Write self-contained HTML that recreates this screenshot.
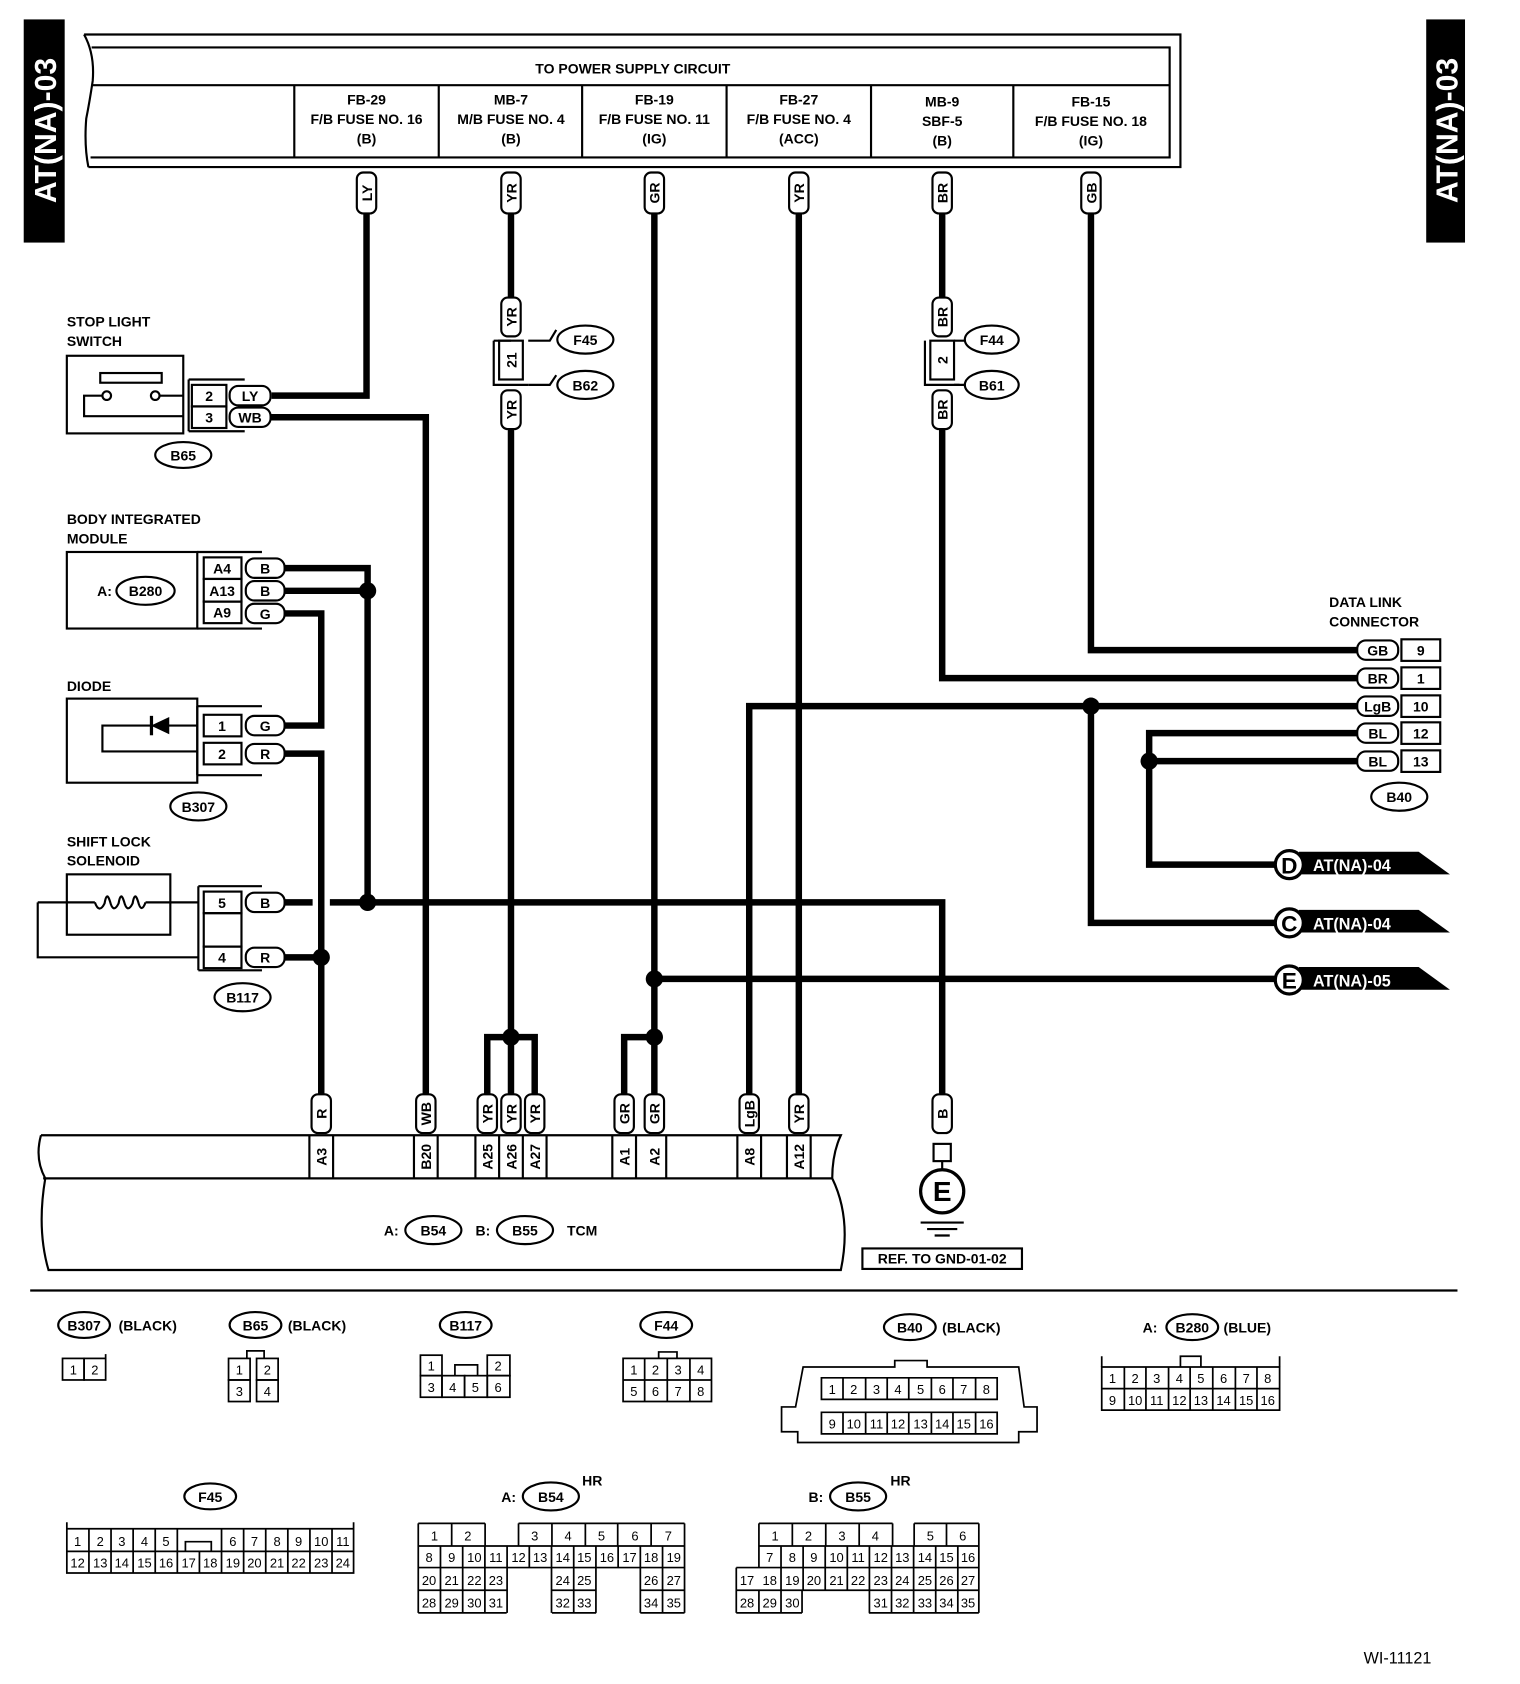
<!DOCTYPE html>
<html><head><meta charset="utf-8"><style>
html,body{margin:0;padding:0;background:#fff;}
svg{display:block;}
text{font-family:"Liberation Sans",Arial,sans-serif;fill:#000;}
.b{font-weight:bold;font-size:13px;}
.n{font-size:12px;}
</style></head><body>
<svg width="1520" height="1684" viewBox="0 0 1410 1562" preserveAspectRatio="none" xmlns="http://www.w3.org/2000/svg">
<rect width="1410" height="1562" fill="#fff"/>
<g fill="none" stroke="#000" stroke-width="2">
<!-- tabs -->
</g>
<rect x="22" y="18" width="38" height="207" fill="#000"/>
<text transform="translate(52,121) rotate(-90)" text-anchor="middle" style="font-family:'Liberation Sans Narrow','Liberation Sans',sans-serif;font-size:28px;font-weight:bold;fill:#fff">AT(NA)-03</text>
<rect x="1323" y="18" width="36" height="207" fill="#000"/>
<text transform="translate(1352,121) rotate(-90)" text-anchor="middle" style="font-family:'Liberation Sans Narrow','Liberation Sans',sans-serif;font-size:28px;font-weight:bold;fill:#fff">AT(NA)-03</text>

<!-- header -->
<g fill="none" stroke="#000" stroke-width="2">
<path d="M78 32 H1095 V155 H82"/>
<path d="M85 44 H1085 V146 H84"/>
<path d="M85 79 H1085"/>
<path d="M78 32 Q88 50 86 75 Q83 95 80 110 Q78 135 82 155"/>
<path d="M273 79V146 M407 79V146 M540 79V146 M674 79V146 M808 79V146 M940 79V146"/>
</g>
<g class="b" text-anchor="middle">
<text x="587" y="68">TO POWER SUPPLY CIRCUIT</text>
<text x="340" y="97">FB-29</text><text x="340" y="115">F/B FUSE NO. 16</text><text x="340" y="133">(B)</text>
<text x="474" y="97">MB-7</text><text x="474" y="115">M/B FUSE NO. 4</text><text x="474" y="133">(B)</text>
<text x="607" y="97">FB-19</text><text x="607" y="115">F/B FUSE NO. 11</text><text x="607" y="133">(IG)</text>
<text x="741" y="97">FB-27</text><text x="741" y="115">F/B FUSE NO. 4</text><text x="741" y="133">(ACC)</text>
<text x="874" y="99">MB-9</text><text x="874" y="117">SBF-5</text><text x="874" y="135">(B)</text>
<text x="1012" y="99">FB-15</text><text x="1012" y="117">F/B FUSE NO. 18</text><text x="1012" y="135">(IG)</text>
</g>

<!-- wires -->
<g fill="none" stroke="#000" stroke-width="6" stroke-linejoin="miter">
<path d="M340 198 V367 H252"/>
<path d="M250 387 H395 V1015"/>
<path d="M474 198 V276 M474 398 V962 M452 1015 V962 H496 V1015 M474 962 V1015"/>
<path d="M607 198 V1015 M607 962 H579 V1015 M607 908 H1183"/>
<path d="M741 198 V1015"/>
<path d="M874 198 V276 M874 398 V629 H1260"/>
<path d="M1012 198 V603 H1260"/>
<path d="M695 1015 V655 H1260 M1012 655 V856 H1183"/>
<path d="M1260 680 H1066 V802 H1183 M1066 706 H1260"/>
<path d="M264 527 H341 V837 M264 548 H341"/>
<path d="M264 569 H298 V673 H264"/>
<path d="M264 699 H298 V1015"/>
<path d="M264 837 H290 M306 837 H874 V1015"/>
<path d="M264 888 H298"/>
</g>
<g fill="#000">
<circle cx="341" cy="548" r="8"/><circle cx="341" cy="837" r="8"/><circle cx="298" cy="888" r="8"/>
<circle cx="474" cy="962" r="8"/><circle cx="607" cy="962" r="8"/><circle cx="607" cy="908" r="8"/>
<circle cx="1012" cy="655" r="8"/><circle cx="1066" cy="706" r="8"/>
</g>

<!-- vertical pills top -->
<g fill="#fff" stroke="#000" stroke-width="2">
<rect x="331" y="160" width="18" height="38" rx="6"/>
<rect x="465" y="160" width="18" height="38" rx="6"/>
<rect x="598" y="160" width="18" height="38" rx="6"/>
<rect x="732" y="160" width="18" height="38" rx="6"/>
<rect x="865" y="160" width="18" height="38" rx="6"/>
<rect x="1003" y="160" width="18" height="38" rx="6"/>
<rect x="465" y="276" width="18" height="36" rx="6"/>
<rect x="465" y="362" width="18" height="36" rx="6"/>
<rect x="865" y="276" width="18" height="36" rx="6"/>
<rect x="865" y="362" width="18" height="36" rx="6"/>
<!-- bottom pills -->
<rect x="289" y="1015" width="18" height="36" rx="6"/>
<rect x="386" y="1015" width="18" height="36" rx="6"/>
<rect x="443" y="1015" width="18" height="36" rx="6"/>
<rect x="465" y="1015" width="18" height="36" rx="6"/>
<rect x="487" y="1015" width="18" height="36" rx="6"/>
<rect x="570" y="1015" width="18" height="36" rx="6"/>
<rect x="598" y="1015" width="18" height="36" rx="6"/>
<rect x="686" y="1015" width="18" height="36" rx="6"/>
<rect x="732" y="1015" width="18" height="36" rx="6"/>
<rect x="865" y="1015" width="18" height="36" rx="6"/>
</g>
<g class="b" text-anchor="middle">
<text transform="translate(345,179) rotate(-90)">LY</text>
<text transform="translate(479,179) rotate(-90)">YR</text>
<text transform="translate(612,179) rotate(-90)">GR</text>
<text transform="translate(746,179) rotate(-90)">YR</text>
<text transform="translate(879,179) rotate(-90)">BR</text>
<text transform="translate(1017,179) rotate(-90)">GB</text>
<text transform="translate(479,294) rotate(-90)">YR</text>
<text transform="translate(479,380) rotate(-90)">YR</text>
<text transform="translate(879,294) rotate(-90)">BR</text>
<text transform="translate(879,380) rotate(-90)">BR</text>
<text transform="translate(303,1033) rotate(-90)">R</text>
<text transform="translate(400,1033) rotate(-90)">WB</text>
<text transform="translate(457,1033) rotate(-90)">YR</text>
<text transform="translate(479,1033) rotate(-90)">YR</text>
<text transform="translate(501,1033) rotate(-90)">YR</text>
<text transform="translate(584,1033) rotate(-90)">GR</text>
<text transform="translate(612,1033) rotate(-90)">GR</text>
<text transform="translate(700,1033) rotate(-90)">LgB</text>
<text transform="translate(746,1033) rotate(-90)">YR</text>
<text transform="translate(879,1033) rotate(-90)">B</text>
</g>

<!-- F45/B62 and F44/B61 -->
<g fill="none" stroke="#000" stroke-width="2">
<rect x="463" y="316" width="22" height="36" fill="#fff"/>
<path d="M458 316 V357 H490 M458 316 H474"/>
<path d="M490 316 H510 L516 306 M490 357 H510 L516 348"/>
<rect x="863" y="316" width="22" height="36" fill="#fff"/>
<path d="M858 316 V357 H890"/>
<path d="M885 316 H896 M885 357 H896"/>
<ellipse cx="543" cy="315" rx="26" ry="13"/><ellipse cx="543" cy="357" rx="26" ry="13"/>
<ellipse cx="920" cy="315" rx="25" ry="13"/><ellipse cx="920" cy="357" rx="25" ry="13"/>
</g>
<g class="b" text-anchor="middle">
<text transform="translate(479,334) rotate(-90)">21</text>
<text transform="translate(879,334) rotate(-90)">2</text>
<text x="543" y="320">F45</text><text x="543" y="362">B62</text>
<text x="920" y="320">F44</text><text x="920" y="362">B61</text>
</g>

<!-- Stop light switch -->
<g class="b"><text x="62" y="303">STOP LIGHT</text><text x="62" y="321">SWITCH</text></g>
<g fill="none" stroke="#000" stroke-width="2">
<rect x="62" y="330" width="108" height="72"/>
<rect x="93" y="346" width="57" height="9"/>
<circle cx="99" cy="367" r="4"/><circle cx="144" cy="367" r="4"/>
<path d="M95 367 H78 V386 H170 M148 367 H170"/>
<path d="M175 352 H227 M175 400 H227 M175 352 V400"/>
<rect x="178" y="357" width="32" height="20"/><rect x="178" y="377" width="32" height="20"/>
<rect x="213" y="358" width="38" height="18" rx="8" fill="#fff"/>
<rect x="213" y="378" width="38" height="18" rx="8" fill="#fff"/>
<ellipse cx="170" cy="422" rx="26" ry="12"/>
</g>
<g class="b" text-anchor="middle">
<text x="194" y="372">2</text><text x="194" y="392">3</text>
<text x="232" y="372">LY</text><text x="232" y="392">WB</text>
<text x="170" y="427">B65</text>
</g>

<!-- Body integrated module -->
<g class="b"><text x="62" y="486">BODY INTEGRATED</text><text x="62" y="504">MODULE</text></g>
<g fill="none" stroke="#000" stroke-width="2">
<rect x="62" y="512" width="121" height="71"/>
<path d="M183 512 H243 M183 583 H243"/>
<rect x="189" y="517" width="35" height="20"/><rect x="189" y="537" width="35" height="21"/><rect x="189" y="558" width="35" height="20"/>
<rect x="228" y="518" width="36" height="18" rx="8" fill="#fff"/>
<rect x="228" y="539" width="36" height="18" rx="8" fill="#fff"/>
<rect x="228" y="560" width="36" height="18" rx="8" fill="#fff"/>
<ellipse cx="135" cy="548" rx="27" ry="13"/>
</g>
<g class="b" text-anchor="middle">
<text x="206" y="532">A4</text><text x="206" y="553">A13</text><text x="206" y="573">A9</text>
<text x="246" y="532">B</text><text x="246" y="553">B</text><text x="246" y="574">G</text>
<text x="97" y="553">A:</text><text x="135" y="553">B280</text>
</g>

<!-- Diode -->
<text class="b" x="62" y="641">DIODE</text>
<g fill="none" stroke="#000" stroke-width="2">
<rect x="62" y="648" width="121" height="78"/>
<path d="M183 655 H243 M183 719 H243 M183 655 V719"/>
<path d="M183 673 H140 M140 673 H95 V697 H183"/>
<rect x="189" y="663" width="35" height="20"/><rect x="189" y="689" width="35" height="20"/>
<rect x="228" y="664" width="36" height="18" rx="8" fill="#fff"/>
<rect x="228" y="690" width="36" height="18" rx="8" fill="#fff"/>
<ellipse cx="184" cy="748" rx="26" ry="13"/>
</g>
<polygon points="140,673 157,665 157,681" fill="#000"/>
<rect x="139" y="664" width="3" height="18" fill="#000"/>
<g class="b" text-anchor="middle">
<text x="206" y="678">1</text><text x="206" y="704">2</text>
<text x="246" y="678">G</text><text x="246" y="704">R</text>
<text x="184" y="753">B307</text>
</g>

<!-- Shift lock solenoid -->
<g class="b"><text x="62" y="785">SHIFT LOCK</text><text x="62" y="803">SOLENOID</text></g>
<g fill="none" stroke="#000" stroke-width="2">
<rect x="62" y="811" width="96" height="56"/>
<path d="M35 837 H88 M135 837 H184 M35 837 V888 H184"/>
<path d="M88 837 Q92 848 97 838 Q99 826 102 836 Q105 848 110 838 Q112 826 115 836 Q118 848 123 838 Q125 826 128 836 Q131 848 135 837"/>
<path d="M184 822 H243 M184 900 H243 M184 822 V900"/>
<rect x="189" y="827" width="35" height="20"/><rect x="189" y="847" width="35" height="31"/><rect x="189" y="878" width="35" height="20"/>
<rect x="228" y="828" width="36" height="18" rx="8" fill="#fff"/>
<rect x="228" y="879" width="36" height="18" rx="8" fill="#fff"/>
<ellipse cx="225" cy="925" rx="26" ry="13"/>
</g>
<g class="b" text-anchor="middle">
<text x="206" y="842">5</text><text x="206" y="893">4</text>
<text x="246" y="842">B</text><text x="246" y="893">R</text>
<text x="225" y="930">B117</text>
</g>

<!-- Data link connector -->
<g class="b"><text x="1233" y="563">DATA LINK</text><text x="1233" y="581">CONNECTOR</text></g>
<g fill="none" stroke="#000" stroke-width="2">
<rect x="1300" y="593" width="36" height="20"/><rect x="1300" y="619" width="36" height="20"/><rect x="1300" y="645" width="36" height="20"/><rect x="1300" y="670" width="36" height="20"/><rect x="1300" y="696" width="36" height="20"/>
<rect x="1259" y="594" width="38" height="18" rx="8" fill="#fff"/>
<rect x="1259" y="620" width="38" height="18" rx="8" fill="#fff"/>
<rect x="1259" y="646" width="38" height="18" rx="8" fill="#fff"/>
<rect x="1259" y="671" width="38" height="18" rx="8" fill="#fff"/>
<rect x="1259" y="697" width="38" height="18" rx="8" fill="#fff"/>
<ellipse cx="1298" cy="739" rx="26" ry="13"/>
</g>
<g class="b" text-anchor="middle">
<text x="1278" y="608">GB</text><text x="1318" y="608">9</text>
<text x="1278" y="634">BR</text><text x="1318" y="634">1</text>
<text x="1278" y="660">LgB</text><text x="1318" y="660">10</text>
<text x="1278" y="685">BL</text><text x="1318" y="685">12</text>
<text x="1278" y="711">BL</text><text x="1318" y="711">13</text>
<text x="1298" y="744">B40</text>
</g>

<!-- Off-page connectors -->
<g>
<polygon points="1205,790 1316,790 1345,811 1205,811" fill="#000"/>
<polygon points="1205,844 1316,844 1345,865 1205,865" fill="#000"/>
<polygon points="1205,897 1316,897 1345,918 1205,918" fill="#000"/>
<circle cx="1196" cy="802" r="13" fill="#fff" stroke="#000" stroke-width="3"/>
<circle cx="1196" cy="856" r="13" fill="#fff" stroke="#000" stroke-width="3"/>
<circle cx="1196" cy="909" r="13" fill="#fff" stroke="#000" stroke-width="3"/>
</g>
<g style="font-weight:bold;font-size:21px" text-anchor="middle">
<text x="1196" y="810">D</text><text x="1196" y="864">C</text><text x="1196" y="917">E</text>
</g>
<g style="font-weight:bold;font-size:15px;fill:#fff">
<text x="1218" y="808" style="fill:#fff">AT(NA)-04</text>
<text x="1218" y="862" style="fill:#fff">AT(NA)-04</text>
<text x="1218" y="915" style="fill:#fff">AT(NA)-05</text>
</g>

<!-- TCM -->
<g fill="none" stroke="#000" stroke-width="2">
<path d="M38 1053 H780 Q772 1070 772 1093 M40 1093 H772 Q790 1130 780 1178 H45 Q34 1140 42 1093 Q32 1075 38 1053"/>
<path d="M287 1053V1093 M309 1053V1093 M384 1053V1093 M406 1053V1093 M441 1053V1093 M463 1053V1093 M485 1053V1093 M507 1053V1093 M568 1053V1093 M590 1053V1093 M618 1053V1093 M684 1053V1093 M706 1053V1093 M730 1053V1093 M752 1053V1093"/>
</g>
<g class="b" text-anchor="middle">
<text transform="translate(303,1073) rotate(-90)">A3</text>
<text transform="translate(400,1073) rotate(-90)">B20</text>
<text transform="translate(457,1073) rotate(-90)">A25</text>
<text transform="translate(479,1073) rotate(-90)">A26</text>
<text transform="translate(501,1073) rotate(-90)">A27</text>
<text transform="translate(584,1073) rotate(-90)">A1</text>
<text transform="translate(612,1073) rotate(-90)">A2</text>
<text transform="translate(700,1073) rotate(-90)">A8</text>
<text transform="translate(746,1073) rotate(-90)">A12</text>
</g>
<g fill="none" stroke="#000" stroke-width="2">
<ellipse cx="402" cy="1141" rx="26" ry="13"/><ellipse cx="487" cy="1141" rx="26" ry="13"/>
</g>
<g class="b" text-anchor="middle">
<text x="363" y="1146">A:</text><text x="402" y="1146">B54</text>
<text x="448" y="1146">B:</text><text x="487" y="1146">B55</text>
<text x="540" y="1146">TCM</text>
</g>

<!-- Ground -->
<g fill="none" stroke="#000" stroke-width="2">
<rect x="866" y="1061" width="16" height="16"/>
<path d="M874 1077 V1085"/>
<circle cx="874" cy="1105" r="20" stroke-width="3"/>
<path d="M854 1134 H894 M860 1140 H888 M867 1146 H881"/>
<rect x="800" y="1158" width="148" height="19"/>
</g>
<text x="874" y="1114" text-anchor="middle" style="font-weight:bold;font-size:26px">E</text>
<text class="b" x="874" y="1172" text-anchor="middle">REF. TO GND-01-02</text>

<path d="M28 1197 H1352" stroke="#000" stroke-width="2"/>

<!-- Bottom connector legends -->
<g fill="none" stroke="#000" stroke-width="2">
<ellipse cx="78" cy="1229" rx="24" ry="12"/><ellipse cx="237" cy="1229" rx="24" ry="12"/>
<ellipse cx="432" cy="1229" rx="24" ry="12"/><ellipse cx="618" cy="1229" rx="24" ry="12"/>
<ellipse cx="844" cy="1231" rx="24" ry="12"/><ellipse cx="1106" cy="1231" rx="24" ry="12"/>
<ellipse cx="195" cy="1388" rx="24" ry="12"/><ellipse cx="511" cy="1388" rx="26" ry="13"/><ellipse cx="796" cy="1388" rx="26" ry="13"/>
</g>
<g class="b">
<text x="78" y="1234" text-anchor="middle">B307</text><text x="110" y="1234">(BLACK)</text>
<text x="237" y="1234" text-anchor="middle">B65</text><text x="267" y="1234">(BLACK)</text>
<text x="432" y="1234" text-anchor="middle">B117</text>
<text x="618" y="1234" text-anchor="middle">F44</text>
<text x="844" y="1236" text-anchor="middle">B40</text><text x="874" y="1236">(BLACK)</text>
<text x="1060" y="1236">A:</text><text x="1106" y="1236" text-anchor="middle">B280</text><text x="1135" y="1236">(BLUE)</text>
<text x="195" y="1393" text-anchor="middle">F45</text>
<text x="465" y="1393">A:</text><text x="511" y="1393" text-anchor="middle">B54</text><text x="540" y="1378">HR</text>
<text x="750" y="1393">B:</text><text x="796" y="1393" text-anchor="middle">B55</text><text x="826" y="1378">HR</text>
</g>

<g fill="none" stroke="#000" stroke-width="1.6">
<!-- B307 -->
<rect x="58" y="1260" width="20" height="20"/><rect x="78" y="1260" width="20" height="20"/><path d="M98 1260 V1256"/>
<!-- B65 -->
<rect x="212" y="1260" width="20" height="20"/><rect x="238" y="1260" width="20" height="20"/>
<rect x="212" y="1280" width="20" height="20"/><rect x="238" y="1280" width="20" height="20"/>
<path d="M229 1260 V1253 H245 V1260"/>
<!-- B117 -->
<rect x="390" y="1257" width="20" height="19"/><rect x="452" y="1257" width="21" height="19"/>
<rect x="390" y="1276" width="20" height="20"/><rect x="410" y="1276" width="21" height="20"/><rect x="431" y="1276" width="21" height="20"/><rect x="452" y="1276" width="21" height="20"/>
<path d="M422 1276 V1266 H443 V1276"/>
<!-- F44 -->
<path d="M578 1260 H660 V1300 H578 Z M578 1280 H660 M598 1260 V1300 M619 1260 V1300 M640 1260 V1300 M611 1260 V1254 H628 V1260"/>
<!-- B40 -->
<path d="M745 1268 H830 V1262 H860 V1268 H945 L950 1305 H962 V1328 H945 V1338 H740 V1328 H725 V1305 H738 Z"/>
<path d="M762 1278 H925 V1298 H762 Z M762 1310 H925 V1330 H762 Z"/>
<path d="M782 1278V1298 M803 1278V1298 M823 1278V1298 M843 1278V1298 M864 1278V1298 M884 1278V1298 M905 1278V1298"/>
<path d="M782 1310V1330 M803 1310V1330 M823 1310V1330 M843 1310V1330 M864 1310V1330 M884 1310V1330 M905 1310V1330"/>
<!-- B280 -->
<path d="M1022 1268 H1187 V1308 H1022 Z M1022 1288 H1187"/>
<path d="M1043 1268V1308 M1063 1268V1308 M1084 1268V1308 M1104 1268V1308 M1125 1268V1308 M1146 1268V1308 M1166 1268V1308"/>
<path d="M1022 1268 V1258 M1187 1268 V1258 M1095 1268 V1258 H1114 V1268"/>
<!-- F45 -->
<path d="M62 1418 H328 V1459 H62 Z M62 1439 H328 M62 1418 V1412 M328 1418 V1412"/>
<path d="M82.5 1418V1459 M103 1418V1459 M123.5 1418V1459 M144 1418V1459 M164.5 1418V1459 M185 1439V1459 M205.5 1418V1459 M226 1418V1459 M246.5 1418V1459 M267 1418V1459 M287.5 1418V1459 M308 1418V1459"/>
<path d="M172 1439 V1430 H196 V1439"/>
<!-- B54 -->
<path d="M388 1413 H450 M481 1413 H635 M388 1434 H635 M388 1454 H635 M388 1475 H470 M512 1475 H553 M594 1475 H635 M388 1496 H470 M512 1496 H553 M594 1496 H635"/>
<path d="M388 1413V1496 M419 1413V1434 M450 1413V1434 M481 1413V1434 M512 1413V1434 M543 1413V1434 M573 1413V1434 M604 1413V1434 M635 1413V1496"/>
<path d="M408.6 1434V1496 M429.2 1434V1496 M449.8 1434V1496 M470.4 1434V1496 M491 1434V1454 M511.6 1434V1496 M532.2 1434V1496 M552.8 1434V1496 M573.4 1434V1454 M594 1434V1496 M614.6 1434V1496"/>
<!-- B55 -->
<path d="M704 1413 H828 M848 1413 H908 M704 1434 H908 M683 1454 H908 M683 1475 H908 M683 1496 H744 M806 1496 H908"/>
<path d="M704 1413V1454 M735 1413V1434 M766 1413V1434 M797 1413V1434 M828 1413V1434 M848 1413V1434 M878 1413V1434 M908 1413V1496"/>
<path d="M724.5 1434V1496 M745 1434V1475 M765.5 1434V1475 M786 1434V1475 M806.5 1434V1496 M827 1434V1496 M847.5 1434V1496 M868 1434V1496 M888.5 1434V1496"/>
<path d="M683 1454V1496 M704 1475V1496 M744 1475V1496"/>
</g>

<g class="n" text-anchor="middle">
<text x="68" y="1275">1</text><text x="88" y="1275">2</text>
<text x="222" y="1275">1</text><text x="248" y="1275">2</text><text x="222" y="1295">3</text><text x="248" y="1295">4</text>
<text x="400" y="1271">1</text><text x="462" y="1271">2</text>
<text x="400" y="1291">3</text><text x="420" y="1291">4</text><text x="441" y="1291">5</text><text x="462" y="1291">6</text>
<text x="588" y="1275">1</text><text x="608" y="1275">2</text><text x="629" y="1275">3</text><text x="650" y="1275">4</text>
<text x="588" y="1295">5</text><text x="608" y="1295">6</text><text x="629" y="1295">7</text><text x="650" y="1295">8</text>
<text x="772" y="1293">1</text><text x="792" y="1293">2</text><text x="813" y="1293">3</text><text x="833" y="1293">4</text><text x="854" y="1293">5</text><text x="874" y="1293">6</text><text x="894" y="1293">7</text><text x="915" y="1293">8</text>
<text x="772" y="1325">9</text><text x="792" y="1325">10</text><text x="813" y="1325">11</text><text x="833" y="1325">12</text><text x="854" y="1325">13</text><text x="874" y="1325">14</text><text x="894" y="1325">15</text><text x="915" y="1325">16</text>
<text x="1032" y="1283">1</text><text x="1053" y="1283">2</text><text x="1073" y="1283">3</text><text x="1094" y="1283">4</text><text x="1114" y="1283">5</text><text x="1135" y="1283">6</text><text x="1156" y="1283">7</text><text x="1176" y="1283">8</text>
<text x="1032" y="1303">9</text><text x="1053" y="1303">10</text><text x="1073" y="1303">11</text><text x="1094" y="1303">12</text><text x="1114" y="1303">13</text><text x="1135" y="1303">14</text><text x="1156" y="1303">15</text><text x="1176" y="1303">16</text>
<!-- F45 -->
<text x="72" y="1434">1</text><text x="93" y="1434">2</text><text x="113" y="1434">3</text><text x="134" y="1434">4</text><text x="154" y="1434">5</text>
<text x="216" y="1434">6</text><text x="236" y="1434">7</text><text x="257" y="1434">8</text><text x="277" y="1434">9</text><text x="298" y="1434">10</text><text x="318" y="1434">11</text>
<text x="72" y="1454">12</text><text x="93" y="1454">13</text><text x="113" y="1454">14</text><text x="134" y="1454">15</text><text x="154" y="1454">16</text><text x="175" y="1454">17</text><text x="195" y="1454">18</text><text x="216" y="1454">19</text><text x="236" y="1454">20</text><text x="257" y="1454">21</text><text x="277" y="1454">22</text><text x="298" y="1454">23</text><text x="318" y="1454">24</text>
<!-- B54 -->
<text x="403" y="1429">1</text><text x="434" y="1429">2</text><text x="496" y="1429">3</text><text x="527" y="1429">4</text><text x="558" y="1429">5</text><text x="589" y="1429">6</text><text x="620" y="1429">7</text>
<text x="398" y="1449">8</text><text x="419" y="1449">9</text><text x="440" y="1449">10</text><text x="460" y="1449">11</text><text x="481" y="1449">12</text><text x="501" y="1449">13</text><text x="522" y="1449">14</text><text x="542" y="1449">15</text><text x="563" y="1449">16</text><text x="584" y="1449">17</text><text x="604" y="1449">18</text><text x="625" y="1449">19</text>
<text x="398" y="1470">20</text><text x="419" y="1470">21</text><text x="440" y="1470">22</text><text x="460" y="1470">23</text><text x="522" y="1470">24</text><text x="542" y="1470">25</text><text x="604" y="1470">26</text><text x="625" y="1470">27</text>
<text x="398" y="1491">28</text><text x="419" y="1491">29</text><text x="440" y="1491">30</text><text x="460" y="1491">31</text><text x="522" y="1491">32</text><text x="542" y="1491">33</text><text x="604" y="1491">34</text><text x="625" y="1491">35</text>
<!-- B55 -->
<text x="719" y="1429">1</text><text x="750" y="1429">2</text><text x="781" y="1429">3</text><text x="812" y="1429">4</text><text x="863" y="1429">5</text><text x="893" y="1429">6</text>
<text x="714" y="1449">7</text><text x="735" y="1449">8</text><text x="755" y="1449">9</text><text x="776" y="1449">10</text><text x="796" y="1449">11</text><text x="817" y="1449">12</text><text x="837" y="1449">13</text><text x="858" y="1449">14</text><text x="878" y="1449">15</text><text x="898" y="1449">16</text>
<text x="693" y="1470">17</text><text x="714" y="1470">18</text><text x="735" y="1470">19</text><text x="755" y="1470">20</text><text x="776" y="1470">21</text><text x="796" y="1470">22</text><text x="817" y="1470">23</text><text x="837" y="1470">24</text><text x="858" y="1470">25</text><text x="878" y="1470">26</text><text x="898" y="1470">27</text>
<text x="693" y="1491">28</text><text x="714" y="1491">29</text><text x="735" y="1491">30</text><text x="817" y="1491">31</text><text x="837" y="1491">32</text><text x="858" y="1491">33</text><text x="878" y="1491">34</text><text x="898" y="1491">35</text>
</g>

<text x="1265" y="1543" style="font-size:15px">WI-11121</text>
</svg>
</body></html>
